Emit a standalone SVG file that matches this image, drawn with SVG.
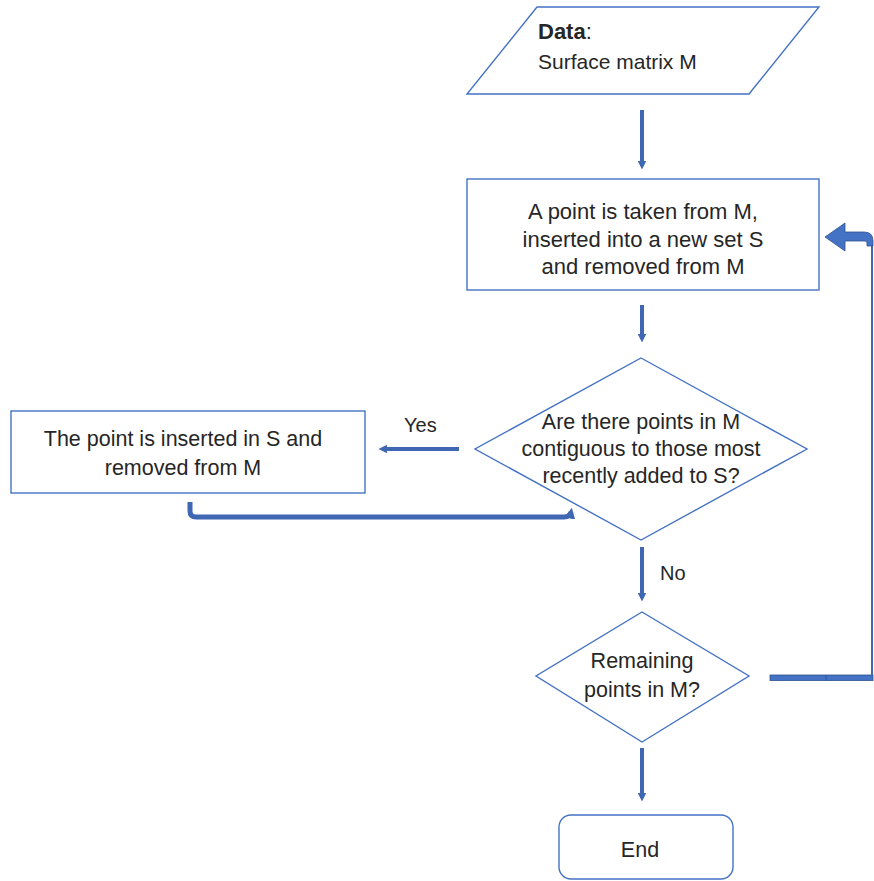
<svg xmlns="http://www.w3.org/2000/svg" width="874" height="881" viewBox="0 0 874 881">
  <defs>
    <style>
      .node { fill: #ffffff; stroke: #4472C4; stroke-width: 1.4; }
      .txt { font-family: "Liberation Sans", Arial, sans-serif; font-size: 21.5px; fill: #262626; text-anchor: middle; }
      .lbl { font-family: "Liberation Sans", Arial, sans-serif; font-size: 20px; fill: #262626; }
      .conn { fill: none; stroke: #3F67B4; stroke-width: 4; }
      .thick { fill: none; stroke: #3F67B4; stroke-width: 5; stroke-linejoin: round; }
      .thin { fill: none; stroke: #3F67B4; stroke-width: 2; }
    </style>
    <marker id="ah" viewBox="0 0 10 10" refX="6" refY="5" markerWidth="2.2" markerHeight="2.2" orient="auto" markerUnits="strokeWidth">
      <path d="M0,0 L10,5 L0,10 z" fill="#3F67B4"/>
    </marker>
  </defs>

  <g id="connectors">
    <line class="conn" x1="642" y1="110" x2="642" y2="166" marker-end="url(#ah)"/>
    <line class="conn" x1="642" y1="305" x2="642" y2="339" marker-end="url(#ah)"/>
    <line class="conn" x1="459" y1="449" x2="382" y2="449" marker-end="url(#ah)"/>
    <path class="thick" d="M190,502 L190,511 Q190,517 196,517 L564,517 Q570,517 571,512" marker-end="url(#ah)"/>
    <line class="conn" x1="642" y1="547" x2="642" y2="598" marker-end="url(#ah)"/>
    <line class="conn" x1="642" y1="748" x2="642" y2="798" marker-end="url(#ah)"/>
    <rect x="770" y="675" width="103" height="5.5" fill="#4472C4" stroke="#2F528F" stroke-width="0.8"/>
    <line x1="826" y1="675" x2="826" y2="680.5" stroke="#2F528F" stroke-width="0.8"/>
    <line class="thin" x1="872" y1="677" x2="872" y2="244"/>
    <path d="M825,237 L845,223 L845,232 L864,232 Q873,232 873,241 L873,246 L867,246 L867,243 Q867,241 865,241 L845,241 L845,251 Z" fill="#4472C4" stroke="#2F528F" stroke-width="0.8"/>
  </g>

  <g id="data">
    <polygon class="node" points="537,7 819,7 749,94 467,94"/>
    <text class="lbl" x="538" y="39" style="font-size:22px"><tspan font-weight="bold">Data</tspan>:</text>
    <text class="lbl" x="538" y="69" style="font-size:21px">Surface matrix M</text>
  </g>

  <g id="take-point">
    <rect class="node" x="467" y="179" width="352" height="111"/>
    <text class="txt" x="643" y="219" style="font-size:22px">A point is taken from M,</text>
    <text class="txt" x="643" y="247" style="font-size:22px">inserted into a new set S</text>
    <text class="txt" x="643" y="274" style="font-size:22px">and removed  from M</text>
  </g>

  <g id="decision-contiguous">
    <polygon class="node" points="641,358 807,449 641,540 475,449"/>
    <text class="txt" x="641" y="429">Are there points in M</text>
    <text class="txt" x="641" y="456">contiguous to those most</text>
    <text class="txt" x="641" y="483">recently added to S?</text>
  </g>

  <g id="insert-point">
    <rect class="node" x="11" y="411" width="354" height="82"/>
    <text class="txt" x="183" y="446">The point is inserted in S and</text>
    <text class="txt" x="183" y="475">removed  from M</text>
  </g>

  <text class="lbl" x="404" y="432">Yes</text>
  <text class="lbl" x="660" y="580">No</text>

  <g id="decision-remaining">
    <polygon class="node" points="642,612 749,676 642,742 536,676"/>
    <text class="txt" x="642" y="668">Remaining</text>
    <text class="txt" x="642" y="697">points in M?</text>
  </g>

  <g id="end">
    <rect class="node" x="559" y="815" width="174" height="64" rx="12" ry="12"/>
    <text class="txt" x="640" y="857">End</text>
  </g>
</svg>
